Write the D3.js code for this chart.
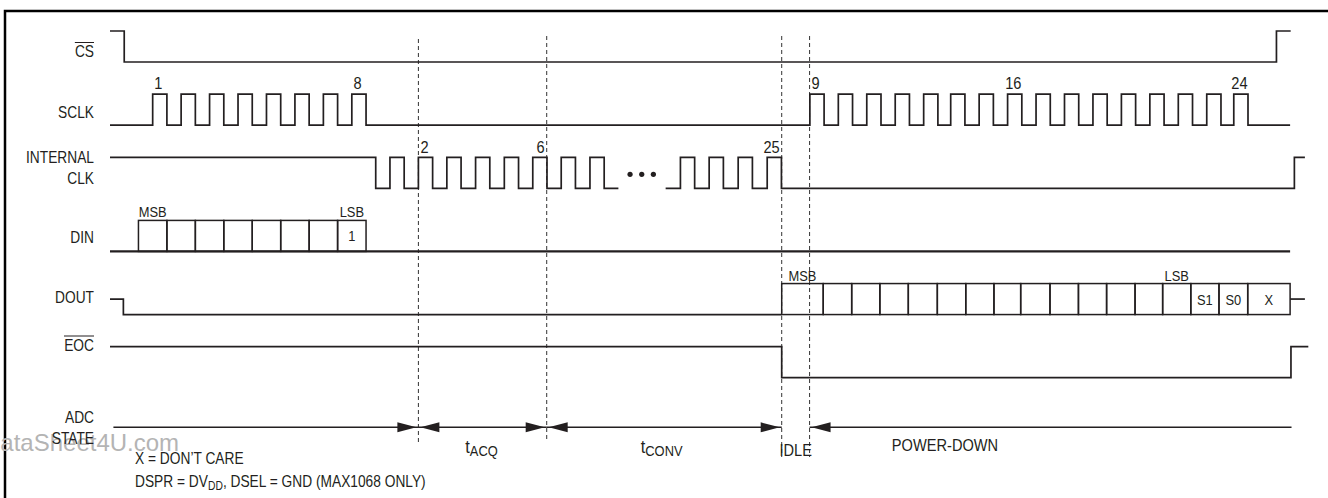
<!DOCTYPE html>
<html><head><meta charset="utf-8">
<script src="https://cdn.jsdelivr.net/npm/d3@7"></script>
<style>
body{margin:0;background:#fff}
svg{display:block}
text{font-family:"Liberation Sans",Arial,Helvetica,sans-serif;fill:#231f20}
</style>
</head><body>
<svg id="c" width="1328" height="498"></svg>
<script>
// ---------------- DATA (time in SCLK-cycle units) ----------------
const signalNames = [["CS"], ["SCLK"], ["INTERNAL", "CLK"], ["DIN"], ["DOUT"], ["EOC"], ["ADC", "STATE"]];
const overbarred = ["CS", "EOC"];

const csSteps = [[0, 1], [0.5, 0], [41.0, 1], [41.5, 1]];

const sclkRises = [1.5, 2.5, 3.5, 4.5, 5.5, 6.5, 7.5, 8.5,
  24.6, 25.6, 26.6, 27.6, 28.6, 29.55, 30.55, 31.55, 32.55, 33.55, 34.55, 35.55, 36.55, 37.55, 38.55, 39.5];
const sclkHighWidth = 0.5;
const sclkEnd = 41.48;
const sclkNumbers = [{label: "1", t: 1.5}, {label: "8", t: 8.5}, {label: "9", t: 24.6}, {label: "16", t: 31.55}, {label: "24", t: 39.5}];

const intStart = [[0, 1], [9.34, 0]];
const intRisesA = [9.84, 10.84, 11.84, 12.85, 13.86, 14.86, 15.86, 16.87];
const intBreak = [17.87, 19.53];
const intRisesB = [20.05, 21.06, 22.08, 23.1];
const intEnd = [[41.63, 1], [42.0, 1]];
const intHighWidth = 0.5;
const intNumbers = [{label: "2", t: 10.84, side: "right"}, {label: "6", t: 15.35, side: "left"}, {label: "25", t: 23.61, side: "left"}];
const ellipsisDots = [18.28, 18.69, 19.1];

const dinEdges = [1, 2, 3, 4, 5, 6, 7, 8, 9];
const dinInside = ["", "", "", "", "", "", "", "1"];
const dinAbove = ["MSB", "", "", "", "", "", "", "LSB"];
const dinEnd = 41.48;

const doutSteps = [[0, 0.5], [0.47, 0], [23.61, 0]];
const doutEdges = [23.61, 25.07, 26.07, 27.06, 28.06, 29.08, 30.08, 31.07, 32.01, 33.04, 34.04, 35.03, 36.03, 37.0, 37.99, 38.98, 39.99, 41.48];
const doutInside = ["", "", "", "", "", "", "", "", "", "", "", "", "", "", "S1", "S0", "X"];
const doutAbove = ["MSB", "", "", "", "", "", "", "", "", "", "", "", "", "LSB", "", "", ""];
const doutTail = [[41.48, 0.5], [42.0, 0.5]];

const eocSteps = [[0, 1], [23.61, 0], [41.51, 1], [42.12, 1]];

const phaseBounds = [10.84, 15.35, 23.61, 24.59];
const adcSegments = [
  {from: 0.12, to: 10.84, head: "end"},
  {from: 10.84, to: 15.35, head: "both"},
  {from: 15.35, to: 23.61, head: "both"},
  {from: 24.59, to: 41.53, head: "start"}
];
const phaseLabels = [
  {t: 13.06, main: "t", sub: "ACQ"},
  {t: 19.39, main: "t", sub: "CONV"},
  {t: 24.1, main: "IDLE", sub: ""},
  {t: 29.35, main: "POWER-DOWN", sub: ""}
];
const watermark = "DataSheet4U.com";

// ---------------- LAYOUT ----------------
const svg = d3.select("#c");
const ink = "#231f20";
const FS = 0.86; // horizontal condensing of the sans font
const x = d3.scaleLinear().domain([0, 42]).range([110, 110 + 42 * 28.45]);
const rowLow = d3.scaleLinear().domain([0, 5]).range([62, 377.7]);
const lvl = d3.scaleLinear().domain([0, 1]).range([0, -31]);
const yOf = (row, v) => rowLow(row) + lvl(v);
const adcY = 427.3;
const tr = (px, py) => `translate(${px},${py}) scale(${FS},1)`;

// frame
svg.append("path").attr("d", `M5,498 V11 H1328`).attr("fill", "none").attr("stroke", "#000").attr("stroke-width", 2.5);

// watermark
svg.append("text").attr("x", -17).attr("y", 451).text(watermark)
  .style("font-size", "24px").style("fill", "#b4b4b4");

// dashed phase lines
const dashBottom = [442, 442, 457, 457];
svg.selectAll("line.dash").data(phaseBounds).join("line")
  .attr("x1", d => x(d)).attr("x2", d => x(d))
  .attr("y1", (d, i) => i === 0 ? 39 : 36).attr("y2", (d, i) => dashBottom[i])
  .attr("stroke", "#333").attr("stroke-width", 1).attr("stroke-dasharray", "4,3");

const stepLine = row => d3.line().x(d => x(d[0])).y(d => yOf(row, d[1])).curve(d3.curveStepAfter);
const drawSig = (pts, row) => svg.append("path").attr("d", stepLine(row)(pts))
  .attr("fill", "none").attr("stroke", ink).attr("stroke-width", 1.7);

function clockPoints(startPts, rises, w, endPts) {
  const pts = startPts.slice();
  rises.forEach(r => { pts.push([r, 1]); pts.push([r + w, 0]); });
  return pts.concat(endPts);
}

// CS
drawSig(csSteps, 0);
// SCLK
drawSig(clockPoints([[0, 0]], sclkRises, sclkHighWidth, [[sclkEnd, 0]]), 1);
// INTERNAL CLK
drawSig(clockPoints(intStart, intRisesA, intHighWidth, [[intBreak[0], 0]]), 2);
drawSig(clockPoints([[intBreak[1], 0]], intRisesB, intHighWidth, intEnd), 2);
svg.selectAll("circle.dot").data(ellipsisDots).join("circle")
  .attr("cx", d => x(d)).attr("cy", yOf(2, 0.45)).attr("r", 2.6).attr("fill", ink);

// numbers
svg.selectAll("text.sn").data(sclkNumbers).join("text")
  .attr("transform", d => tr(x(d.t + 0.2), yOf(1, 1) - 5))
  .attr("text-anchor", "middle").style("font-size", "17px").text(d => d.label);
svg.selectAll("text.in").data(intNumbers).join("text")
  .attr("transform", d => tr(x(d.t) + (d.side === "right" ? 2 : -2), yOf(2, 1) - 4))
  .attr("text-anchor", d => d.side === "right" ? "start" : "end").style("font-size", "17px").text(d => d.label);

// bus boxes
function drawBus(row, edges, inside, above, stroke) {
  const g = svg.append("g");
  const pairs = d3.pairs(edges);
  g.selectAll("rect").data(pairs).join("rect")
    .attr("x", d => x(d[0])).attr("width", d => x(d[1]) - x(d[0]))
    .attr("y", yOf(row, 1)).attr("height", yOf(row, 0) - yOf(row, 1))
    .attr("fill", "none").attr("stroke", ink).attr("stroke-width", stroke);
  g.selectAll("text.in").data(pairs).join("text").attr("class", "in")
    .attr("transform", d => tr((x(d[0]) + x(d[1])) / 2, yOf(row, 0.5) + 5.5))
    .attr("text-anchor", "middle").style("font-size", "15px").text((d, i) => inside[i]);
  g.selectAll("text.ab").data(pairs).join("text").attr("class", "ab")
    .attr("transform", d => tr((x(d[0]) + x(d[1])) / 2, yOf(row, 1) - 3))
    .attr("text-anchor", "middle").style("font-size", "15px").text((d, i) => above[i]);
}
// DIN
svg.append("path").attr("d", d3.line()([[x(0), yOf(3, 0)], [x(dinEnd), yOf(3, 0)]]))
  .attr("stroke", ink).attr("stroke-width", 2.2).attr("fill", "none");
drawBus(3, dinEdges, dinInside, dinAbove, 1.5);
// DOUT
drawSig(doutSteps, 4);
drawBus(4, doutEdges, doutInside, doutAbove, 1.5);
drawSig(doutTail, 4);
// EOC
drawSig(eocSteps, 5);

// ADC STATE arrows
const AL = 19, AH = 5, GAP = 2;
adcSegments.forEach(s => {
  const a = x(s.from), b = x(s.to);
  svg.append("line").attr("x1", a).attr("x2", b).attr("y1", adcY).attr("y2", adcY)
    .attr("stroke", ink).attr("stroke-width", 1.6);
  if (s.head === "end" || s.head === "both") {
    svg.append("path").attr("d", `M${b - GAP},${adcY} L${b - GAP - AL},${adcY - AH} L${b - GAP - AL},${adcY + AH} Z`).attr("fill", ink);
  }
  if (s.head === "start" || s.head === "both") {
    svg.append("path").attr("d", `M${a + GAP},${adcY} L${a + GAP + AL},${adcY - AH} L${a + GAP + AL},${adcY + AH} Z`).attr("fill", ink);
  }
});
// phase labels
phaseLabels.forEach(p => {
  const t = svg.append("text").attr("transform", tr(x(p.t), p.sub ? 453 : (p.main === "IDLE" ? 456 : 451)))
    .attr("text-anchor", "middle").style("font-size", p.sub ? "19px" : "17px");
  t.append("tspan").text(p.main);
  if (p.sub) t.append("tspan").attr("dy", 3).style("font-size", "15px").text(p.sub);
});

// row labels
const labelBase = [57, 118, 163, 243, 303, 350.5, 423];
signalNames.forEach((lines, i) => {
  lines.forEach((s, j) => {
    const t = svg.append("text").attr("transform", tr(94, labelBase[i] + j * 21))
      .attr("text-anchor", "end").style("font-size", "16px").text(s);
    if (overbarred.includes(s)) {
      const w = t.node().getBBox().width * FS;
      svg.append("line").attr("x1", 94 - w).attr("x2", 94)
        .attr("y1", labelBase[i] - 14.5).attr("y2", labelBase[i] - 14.5)
        .attr("stroke", ink).attr("stroke-width", 1);
    }
  });
});

// notes
svg.append("text").attr("transform", tr(135, 464)).style("font-size", "16px").text("X = DON\u2019T CARE");
const n2 = svg.append("text").attr("transform", tr(135, 487)).style("font-size", "16px");
n2.append("tspan").text("DSPR = DV");
n2.append("tspan").attr("dy", 3).style("font-size", "12px").text("DD");
n2.append("tspan").attr("dy", -3).text(", DSEL = GND (MAX1068 ONLY)");
</script>
</body></html>
